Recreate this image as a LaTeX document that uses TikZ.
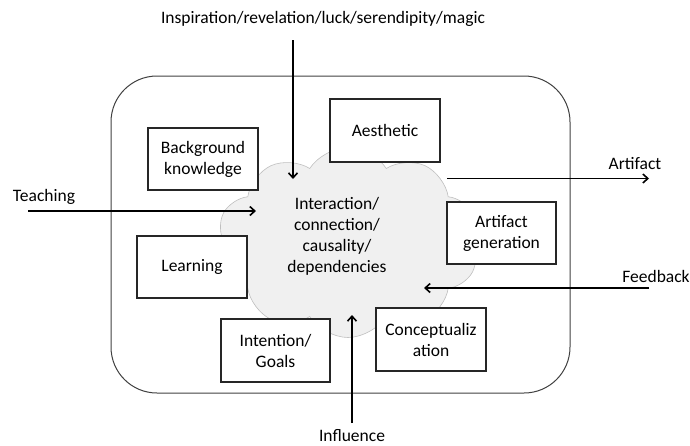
\documentclass[tikz,border=0pt]{standalone}
\usepackage{fontspec}
\setmainfont{Carlito}
\usetikzlibrary{shapes.symbols,arrows.meta,shadows}
\begin{document}
\begin{tikzpicture}[x=1pt,y=-1pt,
  txt/.style={font=\fontsize{17.5}{21}\selectfont, align=center, inner sep=0pt},
  boxnode/.style={txt, draw=black!85, line width=1.1pt, fill=white, minimum width=110pt, minimum height=62pt,
     drop shadow={shadow xshift=1.3pt, shadow yshift=-1.3pt, opacity=0.25, fill=black!60}},
  arr/.style={line width=1.9pt, -{Straight Barb[length=5pt,width=9pt,line width=1.6pt]}},
  lbl/.style={font=\fontsize{17.5}{21}\selectfont, inner sep=0pt}]
\useasboundingbox (0,0) rectangle (690,445);
% outer frame
\draw[black!75, line width=1pt, rounded corners=46pt] (111,76) rectangle (570,393);
% cloud
\node[cloud, cloud puffs=10, cloud puff arc=115, aspect=1.38, draw=black!25, line width=0.6pt, fill=black!6,
      minimum width=262pt, minimum height=190pt, inner sep=0pt, shape border rotate=8] (cloud) at (348,242.5) {};
\node[txt] (core) at (337,236) {Interaction/\\connection/\\causality/\\dependencies};
% boxes
\node[boxnode, minimum height=63pt] (aes) at (385,130.5) {Aesthetic};
\node[boxnode] (bg) at (203,159) {Background\\knowledge};
\node[boxnode] (learn) at (192,267) {Learning};
\node[boxnode, minimum width=109pt] (artgen) at (501.5,233) {Artifact\\generation};
\node[boxnode, minimum width=109pt, minimum height=63pt] (goals) at (275.5,350.5) {Intention/\\Goals};
\node[boxnode, minimum height=63pt] (concept) at (431,339.5) {Conceptualiz\\ation};
% labels
\node[lbl] (insp) at (323,19) {Inspiration/revelation/luck/serendipity/magic};
\node[lbl] (teach) at (44,197) {Teaching};
\node[lbl] (artifact) at (635,164) {Artifact};
\node[lbl] (feed) at (656,276) {Feedback};
\node[lbl] (infl) at (352,436) {Influence};
% connector ends
\coordinate (inspS) at (293,40);
\coordinate (inspE) at (293,179);
\coordinate (teachS) at (28,211);
\coordinate (teachE) at (256,211);
\coordinate (artS) at (447,178.5);
\coordinate (artE) at (649,178.5);
\coordinate (feedS) at (649,288);
\coordinate (feedE) at (424,288);
\coordinate (inflS) at (352,423);
\coordinate (inflE) at (352,315);
\draw[arr] (inspS) -- (inspE);
\draw[arr] (teachS) -- (teachE);
\draw[arr] (artS) -- (artE);
\draw[arr] (feedS) -- (feedE);
\draw[arr] (inflS) -- (inflE);
\end{tikzpicture}
\end{document}
